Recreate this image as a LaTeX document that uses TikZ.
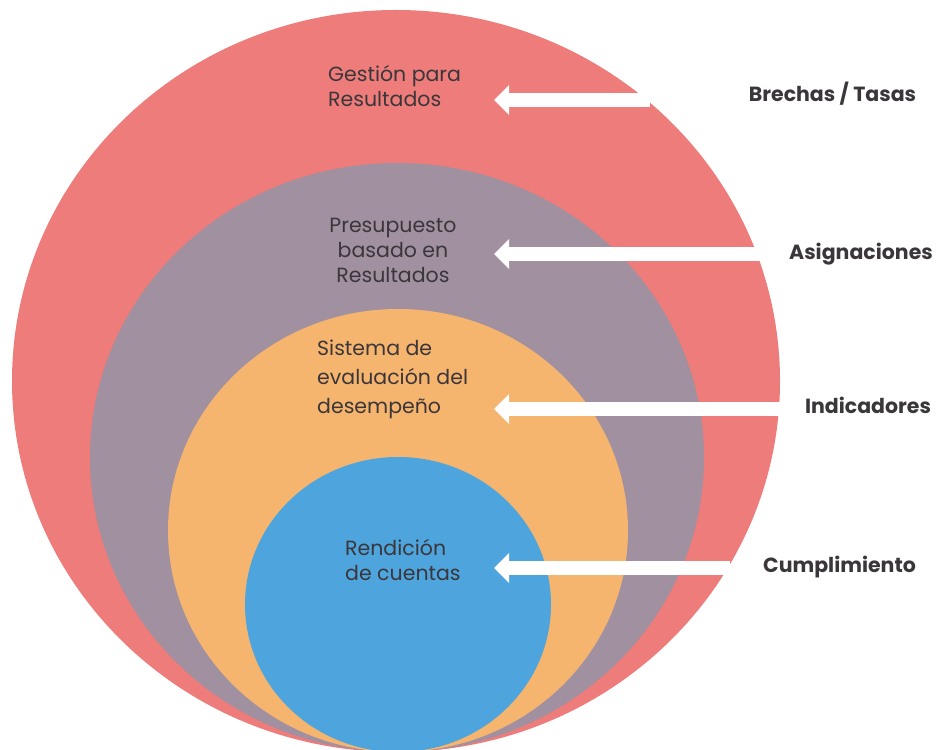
\documentclass[tikz,border=0pt]{standalone}
\usepackage{fontspec}
\setmainfont{Poppins}
\usetikzlibrary{arrows.meta}
\definecolor{gprRed}{RGB}{237,124,122}
\definecolor{pbrMauve}{RGB}{160,144,160}
\definecolor{sedOrange}{RGB}{246,181,110}
\definecolor{rcBlue}{RGB}{78,165,222}
\definecolor{inkGrey}{RGB}{58,54,58}
\begin{document}
\begin{tikzpicture}[>={Triangle[length=15bp,width=29bp]},line join=bevel,
  lbl/.style={font=\fontsize{20.5bp}{25bp}\selectfont,text=inkGrey,inner sep=0pt},
  tag/.style={font=\fontsize{20.5bp}{24bp}\selectfont\bfseries,text=inkGrey,inner sep=0pt},
  whitearrow/.style={white,line width=14bp,->}]
\useasboundingbox (0bp,0bp) rectangle (938bp,750bp);
%%
\fill [gprRed] (396bp,369bp) ellipse [x radius=384bp,y radius=371bp];
  \fill [pbrMauve] (397bp,292.5bp) ellipse [x radius=307bp,y radius=294.5bp];
  \fill [sedOrange] (398bp,219.5bp) ellipse [x radius=230bp,y radius=221.5bp];
  \fill [rcBlue] (398bp,145.5bp) ellipse [x radius=153bp,y radius=147.5bp];
%
\node (lbl_gpr) at (328bp,663.5bp) [lbl,anchor=west,align=left] {Gestión para\\Resultados};
  \node (lbl_pbr) at (393bp,500bp) [lbl,align=center] {Presupuesto\\basado en\\Resultados};
  \node (lbl_sed) at (317bp,371bp) [lbl,font=\fontsize{20.5bp}{29bp}\selectfont,anchor=west,align=left] {Sistema de\\evaluación del\\desempeño};
  \node (lbl_rc) at (345bp,189.5bp) [lbl,anchor=west,align=left] {Rendición\\de cuentas};
%
\node (tag_gpr) at (832.5bp,656bp) [tag] {Brechas / Tasas};
  \node (tag_pbr) at (861bp,496bp) [tag] {Asignaciones};
  \node (tag_sed) at (868bp,345bp) [tag] {Indicadores};
  \node (tag_rc) at (839.5bp,183bp) [tag] {Cumplimiento};
%
\coordinate (tip_gpr) at (494bp,650bp);
  \coordinate (tail_gpr) at (650bp,650bp);
  \coordinate (tip_pbr) at (494bp,496bp);
  \coordinate (tail_pbr) at (760bp,496bp);
  \coordinate (tip_sed) at (494bp,341bp);
  \coordinate (tail_sed) at (785bp,341bp);
  \coordinate (tip_rc) at (494bp,182bp);
  \coordinate (tail_rc) at (730bp,182bp);
  \draw [whitearrow] (tail_gpr) -- (tip_gpr);
  \draw [whitearrow] (tail_pbr) -- (tip_pbr);
  \draw [whitearrow] (tail_sed) -- (tip_sed);
  \draw [whitearrow] (tail_rc) -- (tip_rc);
%
\end{tikzpicture}
\end{document}
